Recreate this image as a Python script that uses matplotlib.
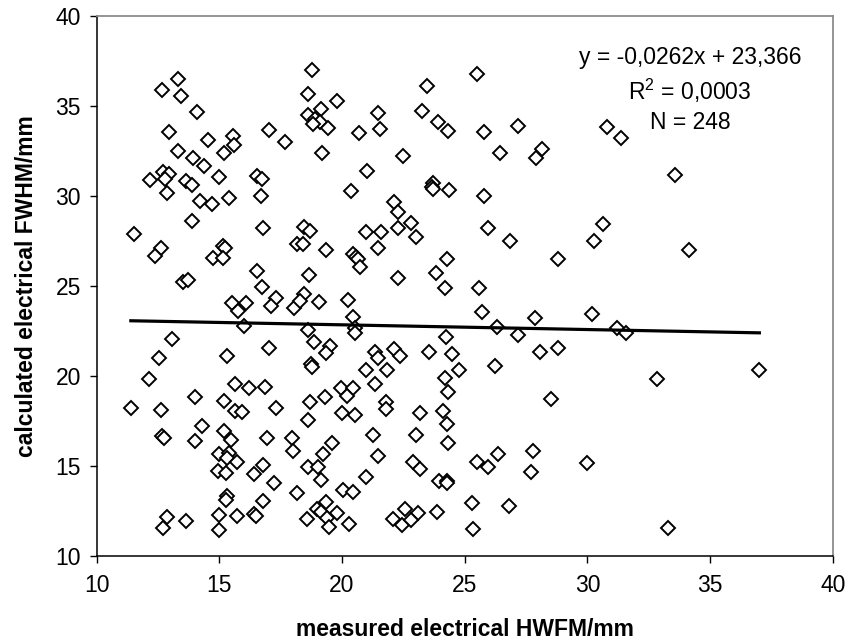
import numpy as np
import matplotlib.pyplot as plt

# measured electrical HWFM (x) and calculated electrical FWHM (y), in mm
x_meas = [
    13.30, 12.65, 13.44, 14.10, 12.93, 17.01, 17.68, 14.52, 15.57, 15.58,
    15.19, 13.30, 13.93, 14.37, 12.70, 12.93, 12.17, 12.80, 12.85, 14.97,
    13.65, 13.90, 16.53, 16.74, 16.70, 15.41, 14.22, 14.70, 13.87,
    18.78, 18.63, 19.78, 19.14, 18.63, 18.90, 19.10, 18.83, 19.44, 19.20,
    20.68, 21.48, 21.56, 21.03, 20.38, 22.50, 23.45, 23.25, 23.90, 24.33,
    23.72, 23.65, 23.70, 24.35, 25.52, 25.79, 27.19, 26.45, 28.15, 27.92,
    25.80, 22.13, 22.30, 22.80,
    30.79, 31.36, 33.57, 30.63, 30.25,
    11.53, 12.62, 12.39, 14.75, 15.16, 15.22, 15.14, 16.79, 18.15, 13.50,
    13.73, 16.52, 16.74, 15.50, 16.07, 15.77, 17.32, 17.09, 18.04, 16.02,
    13.07, 12.55, 15.33, 17.02, 12.12, 15.63, 16.21, 16.86, 14.02, 15.19,
    11.39, 12.62, 15.64, 15.94, 17.31, 14.30, 15.19, 12.65, 12.76,
    18.45, 18.70, 20.98, 21.58, 22.30, 23.02, 25.95, 26.84, 18.40, 19.35,
    20.44, 20.55, 20.64, 20.75, 21.48, 24.27, 23.82, 24.19, 25.57, 28.80,
    18.64, 22.28, 18.45, 18.29, 19.06, 20.23, 20.45, 20.53, 20.53, 25.72,
    26.31, 27.86, 27.19, 30.20, 18.63, 18.86, 19.51, 19.35, 18.72, 18.76,
    24.24, 24.48, 23.53, 21.33, 21.48, 22.12, 22.36, 20.98, 21.85, 24.78,
    24.19, 24.33, 26.25, 28.07, 28.80, 28.50, 21.35, 19.95, 20.46, 20.19,
    18.69, 19.31, 21.78, 21.78, 20.00, 20.54, 18.63, 23.16, 24.10, 24.27,
    34.15, 31.22, 31.58, 37.01, 32.83,
    14.02, 15.47, 16.93, 17.97, 18.01, 15.00, 15.41, 15.30, 15.71, 14.96,
    15.26, 16.41, 16.79, 17.24, 18.15, 15.30, 15.26, 16.79, 16.41, 16.50,
    15.71, 14.97, 14.97, 12.85, 12.69, 13.64,
    21.28, 23.02, 24.33, 19.58, 19.21, 21.48, 18.63, 19.03, 19.13, 22.91,
    23.18, 20.98, 20.05, 20.46, 23.97, 24.27, 24.27, 25.49, 25.96, 26.37,
    27.77, 27.69, 29.97, 25.29, 25.35, 26.82, 23.89, 22.57, 23.09, 22.07,
    22.43, 22.81, 19.35, 18.97, 19.13, 19.81, 19.38, 19.48, 18.56, 20.30,
    33.28,
]
y_calc = [
    36.48, 35.87, 35.57, 34.67, 33.57, 33.68, 32.98, 33.09, 33.33, 32.81,
    32.39, 32.50, 32.09, 31.68, 31.35, 31.20, 30.87, 30.95, 30.18, 31.07,
    30.83, 30.59, 31.11, 30.94, 30.00, 29.91, 29.70, 29.57, 28.60,
    37.00, 35.68, 35.30, 34.83, 34.50, 34.26, 34.13, 34.00, 33.80, 32.39,
    33.48, 34.59, 33.70, 31.39, 30.29, 32.20, 36.09, 34.72, 34.09, 33.59,
    30.74, 30.50, 30.40, 30.31, 36.80, 33.57, 33.89, 32.39, 32.60, 32.11,
    30.02, 29.65, 29.10, 28.50,
    33.85, 33.24, 31.18, 28.43, 27.50,
    27.89, 27.09, 26.67, 26.57, 27.24, 27.13, 26.57, 28.20, 27.32, 25.22,
    25.33, 25.83, 24.93, 24.04, 24.06, 23.61, 24.32, 23.89, 23.79, 22.79,
    22.04, 21.02, 21.11, 21.54, 19.82, 19.56, 19.32, 19.41, 18.82, 18.63,
    18.24, 18.13, 18.06, 18.02, 18.24, 17.24, 16.96, 16.68, 16.54,
    28.30, 28.07, 28.00, 28.00, 28.20, 27.71, 28.20, 27.50, 27.33, 27.00,
    26.78, 26.60, 26.48, 26.07, 27.09, 26.50, 25.72, 24.90, 24.90, 26.50,
    25.61, 25.43, 24.57, 24.18, 24.11, 24.22, 23.26, 22.65, 22.37, 23.54,
    22.74, 23.24, 22.29, 23.43, 22.56, 21.91, 21.68, 21.29, 20.67, 20.52,
    22.15, 21.20, 21.33, 21.32, 21.02, 21.48, 21.11, 20.33, 20.33, 20.33,
    19.87, 19.13, 20.56, 21.32, 21.54, 18.72, 19.56, 19.35, 19.35, 18.91,
    18.54, 18.82, 18.57, 18.15, 17.96, 17.83, 17.56, 17.96, 18.06, 17.32,
    27.00, 22.65, 22.41, 20.33, 19.82,
    16.41, 16.44, 16.54, 16.54, 15.83, 15.65, 15.70, 15.46, 15.20, 14.74,
    14.59, 14.56, 15.06, 14.04, 13.52, 13.33, 13.11, 13.06, 12.32, 12.20,
    12.24, 12.28, 11.44, 12.15, 11.54, 11.96,
    16.72, 16.72, 16.29, 16.26, 15.65, 15.56, 14.96, 14.96, 14.22, 15.24,
    14.82, 14.37, 13.67, 13.54, 14.17, 14.17, 14.04, 15.24, 14.96, 15.65,
    15.85, 14.65, 15.15, 12.96, 11.48, 12.78, 12.46, 12.59, 12.37, 12.06,
    11.72, 12.00, 13.02, 12.59, 12.46, 12.37, 12.09, 11.63, 12.06, 11.76,
    11.57,
]

# Trendlinie aus der Gleichung im Diagramm
slope = -0.0262
intercept = 23.366
r2_text = "0,0003"
n_text = "248"

plt.rcParams['font.family'] = ['Liberation Sans', 'DejaVu Sans']

fig = plt.figure(figsize=(8.59, 6.42), dpi=100)
ax = fig.add_axes([0.1126, 0.1340, 0.8568, 0.8411])

x = np.array(x_meas)
y = np.array(y_calc)

ax.plot(x, y, linestyle='none', marker='D', markersize=7.2,
        markerfacecolor='white', markeredgecolor='black', markeredgewidth=1.4)

xl = np.array([x.min(), x.max()])
ax.plot(xl, slope * xl + intercept, color='black', linewidth=2.3)

ax.set_xlim(10, 40)
ax.set_ylim(10, 40)
ax.set_xticks(np.arange(10, 41, 5))
ax.set_yticks(np.arange(10, 41, 5))

ax.tick_params(direction='out', length=5.3, width=1.0, labelsize=16.5, color='black')
ax.tick_params(axis='x', pad=8)
ax.tick_params(axis='y', pad=6)

for s in ['left', 'bottom']:
    ax.spines[s].set_color('black')
    ax.spines[s].set_linewidth(1.1)
for s in ['top', 'right']:
    ax.spines[s].set_color('#8c8c8c')
    ax.spines[s].set_linewidth(1.3)

fig.text(0.541, 0.019, "measured electrical HWFM/mm", ha='center', va='center',
         fontsize=16.5, fontweight='bold')
fig.text(0.031, 0.554, "calculated electrical FWHM/mm", ha='center', va='center',
         rotation=90, fontsize=16.5, fontweight='bold')

eq = "y = -0,0262x + 23,366\n$\\mathregular{R^2}$ = " + r2_text + "\nN = " + n_text
fig.text(690 / 859, 1 - 90 / 642, eq, ha='center', va='center', fontsize=16.5,
         linespacing=1.35)

fig.savefig("out.png", dpi=100)
